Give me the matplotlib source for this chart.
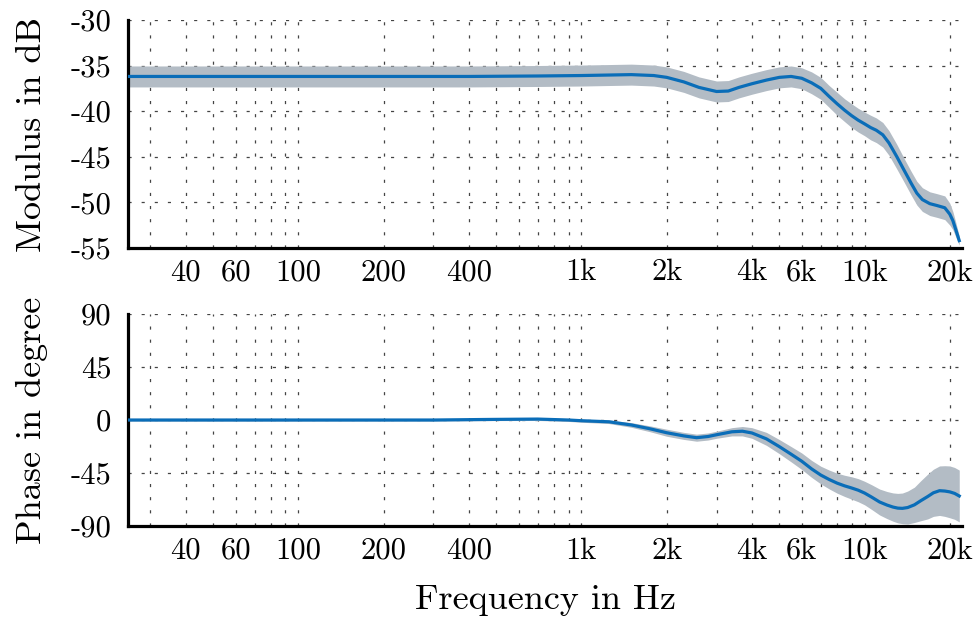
import numpy as np
import matplotlib
matplotlib.use("Agg")
import matplotlib.pyplot as plt
from matplotlib.ticker import FixedLocator, FixedFormatter, LogLocator, NullFormatter

plt.rcParams['font.family'] = ['cmr10', 'DejaVu Serif']
plt.rcParams['axes.unicode_minus'] = False
plt.rcParams['axes.formatter.use_mathtext'] = True

# ---- data ----
freq_mod = [25, 50, 100, 200, 400, 700, 1000, 1500, 1800, 2000, 2300, 2600, 3000,
            3300, 3600, 4000, 4500, 5000, 5500, 6000, 6500, 7000, 7500, 8000, 8500,
            9000, 9500, 10000, 10500, 11000, 11600, 12200, 13000, 13800, 14600,
            15300, 16000, 17000, 18000, 19200, 20000, 20500, 21000, 21600]
modulus = [-36.2, -36.2, -36.2, -36.2, -36.2, -36.15, -36.1, -36.0, -36.1, -36.3, -36.8,
           -37.4, -37.85, -37.8, -37.4, -37.0, -36.6, -36.3, -36.2, -36.4, -36.9, -37.5,
           -38.4, -39.2, -39.9, -40.5, -41.0, -41.4, -41.8, -42.1, -42.6, -43.5,
           -45.0, -46.5, -47.9, -49.0, -49.7, -50.15, -50.35, -50.6, -51.3, -52.0,
           -53.0, -54.2]
modulus_spread = [1.15, 1.15, 1.15, 1.15, 1.15, 1.15, 1.15, 1.15, 1.15, 1.15, 1.15,
                  1.15, 1.15, 1.15, 1.15, 1.15, 1.15, 1.15, 1.15, 1.15, 1.2, 1.2,
                  1.2, 1.25, 1.25, 1.3, 1.3, 1.3, 1.35, 1.35, 1.35, 1.35, 1.35,
                  1.3, 1.3, 1.3, 1.3, 1.3, 1.3, 1.3, 1.2, 1.0, 0.8, 0.5]

freq_phase = [25, 100, 300, 480, 700, 900, 1000, 1250, 1500, 1750, 2000, 2300, 2550,
              2800, 3000, 3400, 3700, 4000, 4500, 5000, 5500, 6000, 6500, 7000, 7500,
              8000, 8500, 9000, 9500, 10000, 10600, 11300, 12000, 12600, 13100, 13600,
              14200, 15000, 15800, 16700, 17500, 18400, 19200, 20000, 20800, 21600]
phase = [0, 0, 0, 0.5, 0.8, 0, -0.6, -1.5, -4.2, -7.5, -10.8, -13.5, -15, -14, -12.5,
         -10, -9.5, -11, -16, -22.6, -29, -35, -41.5, -46.7, -50.5, -53.6, -55.9,
         -57.7, -59.6, -62, -65.5, -69.6, -72.2, -73.9, -74.8, -75, -74.3, -72,
         -68.5, -65, -61.8, -60, -60.3, -61, -62.3, -64.5]
phase_spread = [0.8, 0.8, 0.8, 1.0, 1.2, 1.2, 1.3, 1.5, 2.0, 2.5, 3.0, 3.0, 3.0, 3.0,
                3.0, 3.5, 4.0, 4.5, 5.5, 6.0, 6.5, 7.0, 7.2, 7.5, 8.0, 8.5, 9.0, 9.5,
                9.8, 10, 10.5, 11, 11.5, 12, 12.5, 13, 14, 15, 17, 19, 20, 21, 21.5,
                22, 22, 22]

xtick_vals = [40, 60, 100, 200, 400, 1000, 2000, 4000, 6000, 10000, 20000]
xtick_labels = ['40', '60', '100', '200', '400', '1k', '2k', '4k', '6k', '10k', '20k']
mod_ticks = [-55, -50, -45, -40, -35, -30]
phase_ticks = [-90, -45, 0, 45, 90]

line_color = '#0a6db8'
band_color = '#b3bcc5'
grid_color = '#444444'

fig = plt.figure(figsize=(9.79, 6.26), dpi=100)
ax1 = fig.add_axes([0.1307, 0.604, 0.852, 0.3642])
ax2 = fig.add_axes([0.1307, 0.1597, 0.852, 0.3387])

def style(ax, yticks):
    ax.set_xscale('log')
    ax.set_xlim(25, 22100)
    ax.set_ylim(yticks[0], yticks[-1])
    ax.xaxis.set_major_locator(FixedLocator(xtick_vals))
    ax.xaxis.set_major_formatter(FixedFormatter(xtick_labels))
    ax.xaxis.set_minor_locator(LogLocator(base=10, subs=np.arange(1, 10), numticks=50))
    ax.xaxis.set_minor_formatter(NullFormatter())
    ax.set_yticks(yticks)
    ax.set_yticklabels([str(v) for v in yticks])
    for s in ['top', 'right']:
        ax.spines[s].set_visible(False)
    for s in ['left', 'bottom']:
        ax.spines[s].set_linewidth(2.3)
    ax.tick_params(axis='both', which='both', length=0, labelsize=22)
    ax.tick_params(axis='x', pad=8)
    ax.tick_params(axis='y', pad=12)
    ax.grid(True, axis='x', which='both', color=grid_color, linewidth=0.9,
            linestyle=(0, (2.5, 8)))
    ax.grid(True, axis='y', which='major', color=grid_color, linewidth=0.9,
            linestyle=(0, (2.5, 8)))
    ax.set_axisbelow(True)

style(ax1, mod_ticks)
style(ax2, phase_ticks)

fm = np.array(freq_mod); m = np.array(modulus); ms = np.array(modulus_spread)
ax1.fill_between(fm, m - ms, m + ms, color=band_color, linewidth=0, zorder=2)
ax1.plot(fm, m, color=line_color, linewidth=2.3, zorder=3, solid_joinstyle='round')

fp = np.array(freq_phase); p = np.array(phase); ps = np.array(phase_spread)
ax2.fill_between(fp, p - ps, p + ps, color=band_color, linewidth=0, zorder=2)
ax2.plot(fp, p, color=line_color, linewidth=2.3, zorder=3, solid_joinstyle='round')

fig.text(0.033, (0.604 + 0.968) / 2, 'Modulus in dB', rotation=90, fontsize=26,
         ha='center', va='center')
fig.text(0.033, (0.1597 + 0.4984) / 2, 'Phase in degree', rotation=90, fontsize=26,
         ha='center', va='center')
fig.text(0.1307 + 0.852 / 2, 0.042, 'Frequency in Hz', fontsize=26,
         ha='center', va='center')

fig.savefig('out.png', dpi=100)
